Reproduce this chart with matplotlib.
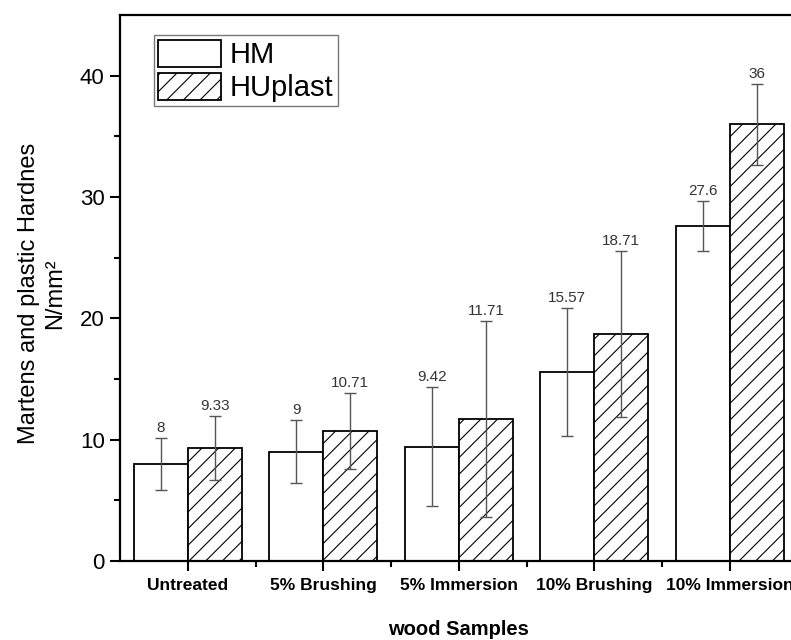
import numpy as np
import matplotlib
matplotlib.use("Agg")
import matplotlib.pyplot as plt
from matplotlib.ticker import FixedLocator

plt.rcParams["font.family"] = ["Liberation Sans", "DejaVu Sans"]
plt.rcParams["hatch.linewidth"] = 0.8

samples = ["Untreated", "5% Brushing", "5% Immersion", "10% Brushing", "10% Immersion"]
hm = [8, 9, 9.42, 15.57, 27.6]
hm_err = [2.16, 2.6, 4.9, 5.25, 2.07]
huplast = [9.33, 10.71, 11.71, 18.71, 36]
huplast_err = [2.63, 3.16, 8.1, 6.86, 3.35]

x = np.arange(len(samples))
w = 0.4

fig = plt.figure(figsize=(7.91, 6.4), dpi=100)
ax = fig.add_axes([120 / 791, 79 / 640, 677.5 / 791, 546 / 640])

err_kw = dict(ecolor="#555555", elinewidth=1.0, capsize=4, capthick=1.0)
ax.bar(x - w / 2, hm, w, yerr=hm_err, color="white", edgecolor="black",
       linewidth=1.3, label="HM", error_kw=err_kw, zorder=2)
ax.bar(x + w / 2, huplast, w, yerr=huplast_err, color="white", edgecolor="black",
       linewidth=1.3, hatch="//", label="HUplast", error_kw=err_kw, zorder=2)

# value labels sit just above the error caps
for xs, vals, errs in [(x - w / 2, hm, hm_err), (x + w / 2, huplast, huplast_err)]:
    for xi, v, e in zip(xs, vals, errs):
        ax.text(xi, v + e + 0.25, f"{v:g}", ha="center", va="bottom",
                fontsize=11, color="#333333")

ax.set_xlim(-0.5, 4.5)
ax.set_ylim(0, 45)
ax.yaxis.set_major_locator(FixedLocator([0, 10, 20, 30, 40]))
ax.yaxis.set_minor_locator(FixedLocator([5, 15, 25, 35]))
ax.set_xticks(x)
ax.set_xticklabels(samples, fontweight="bold", fontsize=12.5)
ax.xaxis.set_minor_locator(FixedLocator(x[:-1] + 0.5))
ax.tick_params(axis="y", which="major", direction="out", length=7, width=1.5,
               labelsize=16, pad=4)
ax.tick_params(axis="y", which="minor", direction="out", length=4, width=1.5)
ax.tick_params(axis="x", which="major", direction="out", length=7, width=1.5, pad=5)
ax.tick_params(axis="x", which="minor", direction="out", length=4, width=1.5)

for s in ax.spines.values():
    s.set_linewidth(1.6)

ax.set_ylabel("Martens and plastic Hardnes\nN/mm\u00b2", fontsize=17)
ax.yaxis.set_label_coords(-0.08, 0.49)
ax.set_xlabel("wood Samples", fontweight="bold", fontsize=14.5, labelpad=20)

leg = ax.legend(loc="upper left", bbox_to_anchor=(0.05, 0.963), fontsize=21,
                frameon=True, fancybox=False, edgecolor="#555555",
                handlelength=2.15, handleheight=1.05, handletextpad=0.3,
                borderpad=0.15, labelspacing=0.12, borderaxespad=0)
leg.get_frame().set_linewidth(1.0)

fig.savefig("out.png", dpi=100)
